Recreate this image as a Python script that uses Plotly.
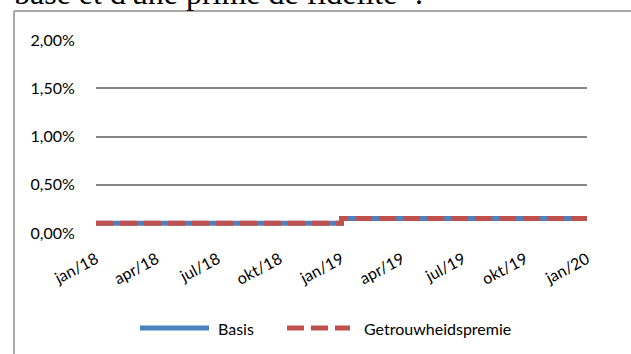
import pandas as pd
import plotly.graph_objects as go

# Monthly rates (fraction): base rate and loyalty premium
months = pd.date_range("2018-01-01", "2020-01-01", freq="MS")
basis = [0.0010] * 12 + [0.0015] * 13
getrouwheidspremie = [0.0010] * 12 + [0.0015] * 13

tick_dates = ["2018-01-01", "2018-04-01", "2018-07-01", "2018-10-01",
              "2019-01-01", "2019-04-01", "2019-07-01", "2019-10-01",
              "2020-01-01"]
tick_labels = ["jan/18", "apr/18", "jul/18", "okt/18",
               "jan/19", "apr/19", "jul/19", "okt/19", "jan/20"]
y_ticks = [0, 0.005, 0.01, 0.015, 0.02]

series_names = ["Basis", "Getrouwheidspremie"]
BLUE = "#4F81BD"
RED = "#C0504D"
GRID = "#868686"
TEXT = "#000000"
FONT = "Lato, 'Open Sans', sans-serif"

W, H = 631, 354
L, R, T, B = 96, 44, 40, 121
pw, ph = W - L - R, H - T - B


def px_x(x):
    return (x - L) / pw


def px_y(y):
    return (H - B - y) / ph


fig = go.Figure()
fig.add_trace(go.Scatter(
    x=months, y=basis, mode="lines", line_shape="hv",
    line=dict(color=BLUE, width=5), name=series_names[0], showlegend=False,
))
fig.add_trace(go.Scatter(
    x=months, y=getrouwheidspremie, mode="lines", line_shape="hv",
    line=dict(color=RED, width=5, dash="17px,7px"), name=series_names[1],
    showlegend=False,
))

# chart frame (left and top edges)
fig.add_shape(type="line", xref="paper", yref="paper",
              x0=px_x(14), x1=px_x(640), y0=px_y(11), y1=px_y(11),
              line=dict(color="#8c8c8c", width=1.5))
fig.add_shape(type="line", xref="paper", yref="paper",
              x0=px_x(14), x1=px_x(14), y0=px_y(11), y1=px_y(360),
              line=dict(color="#8c8c8c", width=1.5))

# legend
ly = px_y(328)
fig.add_shape(type="line", xref="paper", yref="paper",
              x0=px_x(140), x1=px_x(209), y0=ly, y1=ly,
              line=dict(color=BLUE, width=5))
fig.add_annotation(text=series_names[0], xref="paper", yref="paper",
                   x=px_x(216), y=ly, xanchor="left", yanchor="middle",
                   showarrow=False, font=dict(family=FONT, size=16, color=TEXT))
fig.add_shape(type="line", xref="paper", yref="paper",
              x0=px_x(287), x1=px_x(350), y0=ly, y1=ly,
              line=dict(color=RED, width=5, dash="17px,7px"))
fig.add_annotation(text=series_names[1], xref="paper", yref="paper",
                   x=px_x(362), y=ly, xanchor="left", yanchor="middle",
                   showarrow=False, font=dict(family=FONT, size=16, color=TEXT))

# surrounding document text above the chart
fig.add_annotation(text="base et d'une prime de fidélité ¹.", xref="paper",
                   yref="paper", x=px_x(12), y=px_y(13), xanchor="left",
                   yanchor="bottom", showarrow=False,
                   font=dict(family="'Liberation Serif', 'Times New Roman', serif",
                             size=32, color="#000000"))

fig.update_layout(
    width=W, height=H,
    margin=dict(l=L, r=R, t=T, b=B, pad=0),
    paper_bgcolor="white", plot_bgcolor="white",
    separators=",.",
    showlegend=False,
    font=dict(family=FONT, size=16, color=TEXT),
)
fig.update_xaxes(
    type="date", range=["2018-01-01", "2020-01-01"],
    tickvals=tick_dates, ticktext=tick_labels, tickangle=-28,
    showgrid=False, zeroline=False, showline=False,
    ticks="outside", ticklen=0, ticklabelstandoff=10,
    tickfont=dict(family=FONT, size=16, color=TEXT),
)
fig.update_yaxes(
    range=[0, 0.02], tickvals=y_ticks, tickformat=".2%",
    showgrid=True, gridcolor=GRID, gridwidth=1.6, zeroline=False,
    showline=False, ticks="outside", ticklen=0, ticklabelstandoff=17,
    tickfont=dict(family=FONT, size=16, color=TEXT),
)

fig.write_html("out.html")
